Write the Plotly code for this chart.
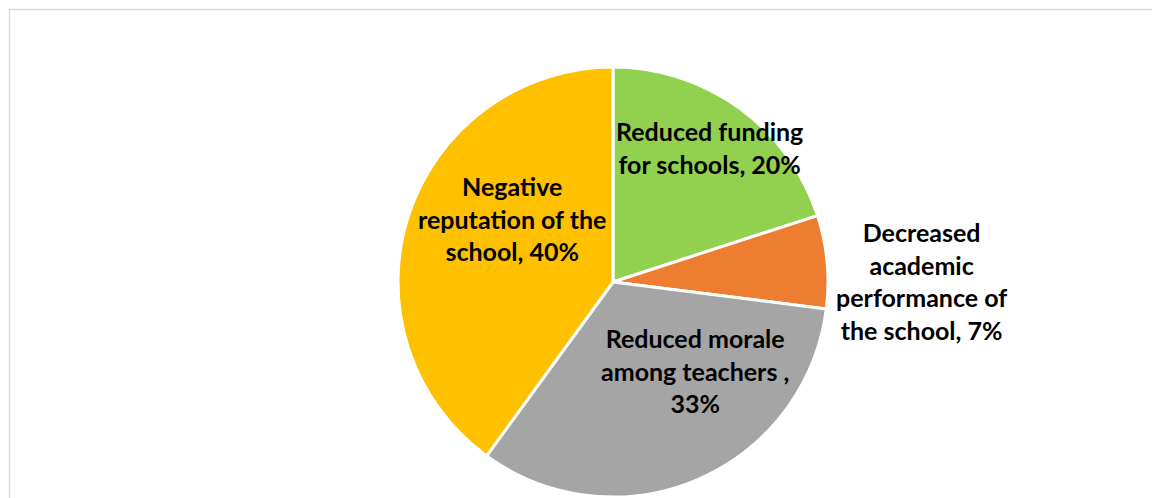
import plotly.graph_objects as go

# Slice data, listed clockwise from 12 o'clock
categories = [
    "Reduced funding for schools",
    "Decreased academic performance of the school",
    "Reduced morale among teachers ",
    "Negative reputation of the school",
]
shares = [20, 7, 33, 40]
colors = ["#92D050", "#ED7D31", "#A5A5A5", "#FFC000"]

# Line-break pattern for each data label (words per line)
wrap_words = [
    [2, 3],
    [1, 1, 2, 3],
    [2, 3, 1],
    [1, 3, 2],
]

# Label centres in pixels (x, y) on the 1152x498 canvas
label_px = [(709, 147), (921, 281), (695, 370), (512, 218)]

W, H = 1152, 498
cx, cy, R = 613, 282, 215


def label_text(cat, val, pattern):
    words = f"{cat}, {val}%".split()
    lines, i = [], 0
    for n in pattern:
        lines.append(" ".join(words[i:i + n]))
        i += n
    return "<br>".join(lines)


fig = go.Figure(
    go.Pie(
        labels=categories,
        values=shares,
        sort=False,
        direction="clockwise",
        rotation=0,
        marker=dict(colors=colors, line=dict(color="white", width=3)),
        textinfo="none",
        hoverinfo="label+percent",
        showlegend=False,
        domain=dict(x=[(cx - R) / W, (cx + R) / W], y=[1 - (cy + R) / H, 1 - (cy - R) / H]),
    )
)

annotations = []
for cat, val, pat, (px, py) in zip(categories, shares, wrap_words, label_px):
    annotations.append(
        dict(
            text=label_text(cat, val, pat),
            x=px / W,
            y=1 - py / H,
            xref="paper",
            yref="paper",
            showarrow=False,
            align="center",
            xanchor="center",
            yanchor="middle",
            font=dict(family="Lato", size=25, color="#000000", weight="bold"),
        )
    )

fig.update_layout(
    width=W,
    height=H,
    margin=dict(l=0, r=0, t=0, b=0),
    paper_bgcolor="white",
    plot_bgcolor="white",
    annotations=annotations,
    shapes=[
        dict(
            type="rect",
            xref="paper",
            yref="paper",
            x0=9.5 / W,
            x1=1.02,
            y0=-0.05,
            y1=1 - 9.5 / H,
            line=dict(color="#D9D9D9", width=1.5),
            fillcolor="rgba(0,0,0,0)",
            layer="below",
        )
    ],
)

fig.write_html("out.html")
